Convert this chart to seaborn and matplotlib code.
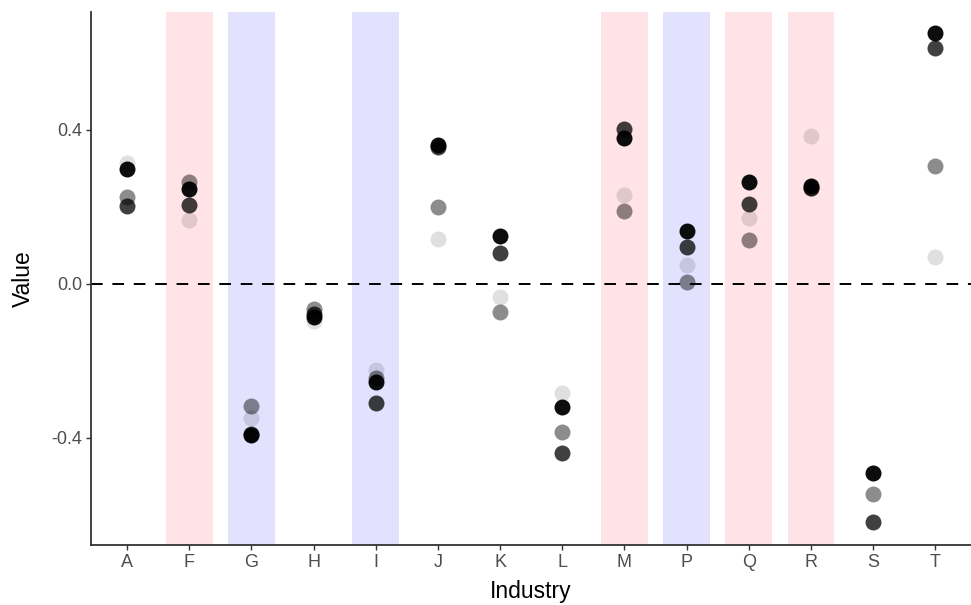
import numpy as np
import pandas as pd
import matplotlib
matplotlib.use("Agg")
import matplotlib.pyplot as plt
import seaborn as sns

# Industry codes along the x axis
industries = ["A", "F", "G", "H", "I", "J", "K", "L", "M", "P", "Q", "R", "S", "T"]

# Four series of values per industry (drawn faintest first)
series_light = [0.314, 0.165, -0.348, -0.095, -0.223, 0.116, -0.033, -0.284, 0.231, 0.048, 0.171, 0.384, -0.49, 0.071]
series_medium = [0.226, 0.265, -0.316, -0.065, -0.245, 0.201, -0.072, -0.384, 0.190, 0.006, 0.114, 0.250, -0.545, 0.306]
series_dark = [0.203, 0.205, -0.390, -0.078, -0.310, 0.355, 0.080, -0.440, 0.402, 0.097, 0.208, 0.250, -0.618, 0.612]
series_black = [0.299, 0.246, -0.392, -0.085, -0.254, 0.360, 0.125, -0.320, 0.378, 0.138, 0.266, 0.255, -0.491, 0.651]

series_alpha = [0.12, 0.45, 0.75, 0.95]

# Highlighted industries: shaded columns
pink_industries = ["F", "M", "Q", "R"]
blue_industries = ["G", "I", "P"]

df = pd.DataFrame({
    "Industry": industries * 4,
    "Value": series_light + series_medium + series_dark + series_black,
    "series": np.repeat([0, 1, 2, 3], len(industries)),
})

sns.set_theme(style="ticks")
plt.rcParams["font.family"] = ["Liberation Sans", "DejaVu Sans"]

fig = plt.figure(figsize=(9.71, 6.05), dpi=100)
ax = fig.add_axes([0.0937, 0.0992, 0.906, 0.8808])

for i, ind in enumerate(industries):
    if ind in pink_industries:
        ax.axvspan(i - 0.375, i + 0.375, color="#FFE3E6", zorder=0, lw=0)
    elif ind in blue_industries:
        ax.axvspan(i - 0.375, i + 0.375, color="#E2E2FF", zorder=0, lw=0)

ax.axhline(0, color="black", lw=1.4, ls=(0, (6, 5)), zorder=1)

for s, a in enumerate(series_alpha):
    sns.stripplot(data=df[df["series"] == s], x="Industry", y="Value",
                  order=industries, jitter=False, color="black", alpha=a,
                  size=11.5, linewidth=0, ax=ax, zorder=3)

ax.set_xlim(-0.58, len(industries) - 1 + 0.57)
ax.set_ylim(-0.678, 0.706)
ax.set_yticks([-0.4, 0.0, 0.4])
ax.set_yticklabels(["-0.4", "0.0", "0.4"])

for side in ["top", "right"]:
    ax.spines[side].set_visible(False)
for side in ["left", "bottom"]:
    ax.spines[side].set_color("#333333")
    ax.spines[side].set_linewidth(1.3)

ax.tick_params(axis="both", colors="#333333", labelcolor="#4D4D4D",
               labelsize=13, length=3.5, width=1.0, pad=3)
ax.set_xlabel("Industry", fontsize=16.5, color="black", labelpad=6.5)
ax.set_ylabel("Value", fontsize=16.5, color="black", labelpad=12)

fig.savefig("out.png", dpi=100)
